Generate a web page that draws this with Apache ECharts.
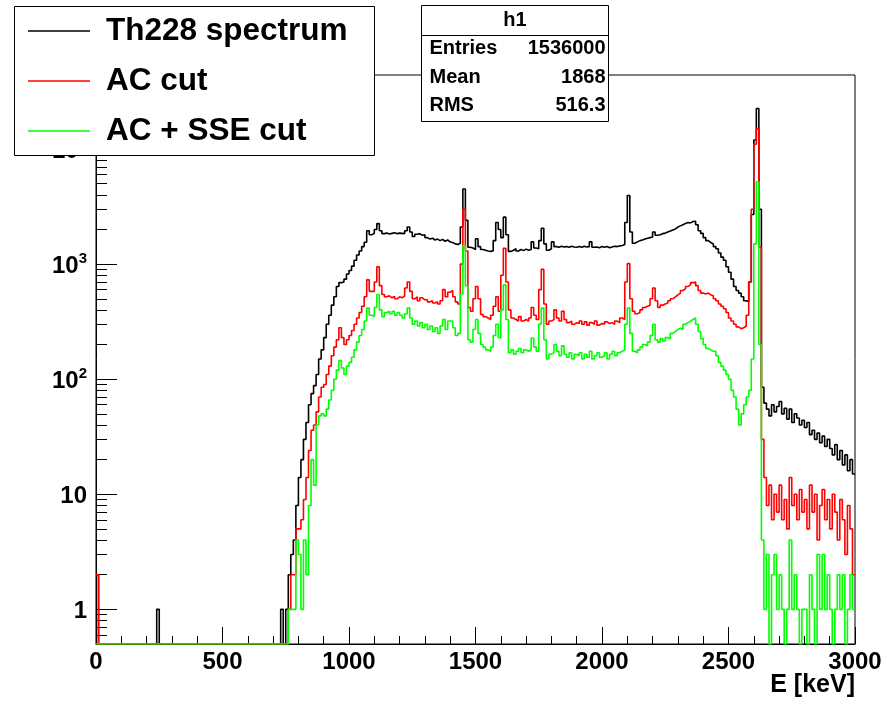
<!DOCTYPE html>
<html>
<head>
<meta charset="utf-8">
<script src="https://cdn.jsdelivr.net/npm/echarts@6.0.0/dist/echarts.min.js"></script>
<style>
  html, body { margin: 0; padding: 0; background: #fff; }
  #chart { width: 886px; height: 701px; }
</style>
</head>
<body>
<div id="chart"></div>
<script>
// histogram: 10 keV bins from 0 to 3000 keV, counts per bin
const binWidth = 10;
const eMin = 0;
const eMax = 3000;

const th228 = [
  2, 0, 0, 0, 0, 0, 0, 0, 0, 0,
  0, 0, 0, 0, 0, 0, 0, 0, 0, 0,
  0, 0, 0, 0, 1, 0, 0, 0, 0, 0,
  0, 0, 0, 0, 0, 0, 0, 0, 0, 0,
  0, 0, 0, 0, 0, 0, 0, 0, 0, 0,
  0, 0, 0, 0, 0, 0, 0, 0, 0, 0,
  0, 0, 0, 0, 0, 0, 0, 0, 0, 0,
  0, 0, 0, 1, 0, 1, 2, 3, 4, 8,
  14, 20, 30, 42, 60, 75, 88, 110, 150, 180,
  230, 300, 360, 440, 520, 640, 690, 700, 740, 820,
  880, 960, 1080, 1200, 1300, 1420, 1550, 1950, 1800, 1850,
  2000, 2250, 1950, 1840, 1860, 1830, 1850, 1870, 1840, 1860,
  1850, 1840, 1950, 2100, 1900, 1740, 1820, 1840, 1780, 1800,
  1700, 1650, 1680, 1620, 1650, 1600, 1640, 1580, 1620, 1560,
  1540, 1500, 1480, 1520, 2100, 4500, 2400, 1400, 1380, 1340,
  1660, 1420, 1340, 1320, 1300, 1290, 1310, 1600, 2300, 2000,
  1700, 2560, 1800, 1290, 1320, 1360, 1300, 1340, 1310, 1350,
  1320, 1340, 1560, 1380, 1360, 1600, 2050, 1500, 1320, 1360,
  1560, 1420, 1400, 1430, 1410, 1420, 1400, 1430, 1410, 1400,
  1420, 1400, 1430, 1410, 1420, 1560, 1400, 1410, 1390, 1420,
  1400, 1420, 1390, 1410, 1430, 1420, 1440, 1450, 1480, 2300,
  3950, 1900, 1520, 1560, 1600, 1620, 1650, 1680, 1700, 1720,
  1900, 1780, 1800, 1840, 1860, 1900, 1940, 1980, 2020, 2100,
  2150, 2200, 2250, 2300, 2280, 2350, 2360, 2200, 1950, 1850,
  1700, 1600, 1540, 1500, 1420, 1360, 1250, 1150, 1080, 950,
  850, 740, 640, 590, 560, 520, 480, 470, 700, 2700,
  12000, 22500, 3000, 85, 62, 55, 48, 60, 52, 58,
  64, 50, 56, 45, 55, 42, 50, 46, 40, 44,
  38, 42, 33, 36, 30, 34, 28, 32, 26, 30,
  25, 22, 27, 20, 24, 18, 22, 16, 20, 15
];

const acCut = [
  2, 0, 0, 0, 0, 0, 0, 0, 0, 0,
  0, 0, 0, 0, 0, 0, 0, 0, 0, 0,
  0, 0, 0, 0, 0, 0, 0, 0, 0, 0,
  0, 0, 0, 0, 0, 0, 0, 0, 0, 0,
  0, 0, 0, 0, 0, 0, 0, 0, 0, 0,
  0, 0, 0, 0, 0, 0, 0, 0, 0, 0,
  0, 0, 0, 0, 0, 0, 0, 0, 0, 0,
  0, 0, 0, 0, 0, 0, 1, 2, 2, 5,
  5, 6, 9, 14, 24, 36, 40, 52, 70, 85,
  90, 110, 130, 160, 190, 220, 280, 230, 200, 220,
  240, 265, 300, 340, 380, 430, 520, 730, 580, 580,
  700, 950, 650, 545, 520, 530, 510, 525, 500, 520,
  510, 530, 620, 700, 580, 500, 520, 480, 510, 490,
  490, 470, 480, 460, 470, 450, 480, 600, 520, 570,
  590, 520, 470, 450, 1000, 3000, 1300, 420, 390, 500,
  640, 500, 365, 350, 340, 330, 360, 430, 520, 390,
  800, 1370, 700, 400, 340, 330, 320, 350, 320, 330,
  320, 340, 420, 360, 330, 600, 900, 450, 300, 320,
  330, 400, 340, 320, 390, 330, 310, 320, 300, 310,
  305, 320, 300, 315, 295, 310, 300, 320, 295, 305,
  300, 315, 305, 310, 300, 320, 310, 340, 330, 700,
  1010, 500, 390, 370, 380, 400, 420, 430, 440, 500,
  620, 480, 420, 440, 450, 460, 480, 500, 520, 540,
  560, 590, 610, 640, 660, 690, 700, 650, 590, 560,
  550, 560, 540, 530, 500, 480, 450, 430, 410, 380,
  340, 320, 300, 285, 275, 280, 290, 360, 700, 3000,
  11000, 15000, 1400, 30, 14, 8, 12, 6, 10, 7,
  12, 6, 9, 5, 14, 8, 10, 6, 11, 7,
  9, 5, 12, 7, 10, 4, 8, 11, 6, 9,
  5, 10, 7, 4, 9, 6, 3, 8, 5, 2
];

const acSseCut = [
  0, 0, 0, 0, 0, 0, 0, 0, 0, 0,
  0, 0, 0, 0, 0, 0, 0, 0, 0, 0,
  0, 0, 0, 0, 0, 0, 0, 0, 0, 0,
  0, 0, 0, 0, 0, 0, 0, 0, 0, 0,
  0, 0, 0, 0, 0, 0, 0, 0, 0, 0,
  0, 0, 0, 0, 0, 0, 0, 0, 0, 0,
  0, 0, 0, 0, 0, 0, 0, 0, 0, 0,
  0, 0, 0, 0, 0, 0, 1, 1, 1, 4,
  3, 1, 4, 2, 8, 20, 12, 40, 48, 50,
  48, 55, 66, 80, 100, 120, 145, 125, 110, 130,
  140, 155, 180, 210, 240, 270, 320, 415, 360, 350,
  420, 545, 400, 350, 380, 390, 370, 390, 360, 380,
  360, 340, 370, 415, 340, 300, 320, 290, 310, 280,
  300, 270, 290, 260, 280, 250, 290, 330, 270, 320,
  320, 280, 240, 250, 550, 1450, 650, 220, 210, 270,
  330, 250, 200, 190, 180, 175, 190, 240, 300, 230,
  400, 660, 330, 170, 180, 165, 175, 185, 170, 180,
  175, 180, 228, 190, 175, 300, 415, 220, 150, 165,
  170, 200, 175, 160, 195, 165, 155, 170, 150, 165,
  160, 170, 150, 165, 155, 175, 150, 160, 170, 155,
  160, 170, 150, 165, 175, 160, 170, 175, 180, 300,
  415, 250, 175, 170, 180, 190, 200, 195, 210, 240,
  300, 220, 210, 225, 215, 230, 225, 250, 260, 270,
  278, 270, 300, 310, 320, 330, 340, 300, 260, 225,
  200, 185, 180, 175, 175, 160, 140, 130, 120, 110,
  100, 80, 70, 55, 40, 50, 60, 70, 80, 150,
  1500, 5200, 200, 4, 1, 3, 0, 2, 3, 1,
  2, 1, 0, 1, 4, 1, 2, 1, 0, 1,
  1, 0, 2, 1, 0, 3, 1, 3, 1, 2,
  1, 0, 1, 2, 1, 2, 0, 1, 2, 1
];

const xTicks = [0, 500, 1000, 1500, 2000, 2500, 3000];
const yMajorTicks = [1, 10, 100, 1000, 10000];
const yMinorTicks = [
  0.6, 0.7, 0.8, 0.9,
  2, 3, 4, 5, 6, 7, 8, 9,
  20, 30, 40, 50, 60, 70, 80, 90,
  200, 300, 400, 500, 600, 700, 800, 900,
  2000, 3000, 4000, 5000, 6000, 7000, 8000, 9000,
  20000, 30000, 40000
];
const yMin = 0.5;
const yMax = 44000;

const seriesNames = ['Th228 spectrum', 'AC cut', 'AC + SSE cut'];
const seriesColors = ['#000000', '#ff0000', '#00ff00'];

const FONT = '"Liberation Sans", Arial, Helvetica, sans-serif';

// empty bins sit on the bottom of the frame, like ROOT does on a log pad
function toSteps(counts) {
  const pts = counts.map((c, i) => [eMin + i * binWidth, c > 0 ? c : yMin]);
  pts.push([eMax, pts[pts.length - 1][1]]);
  return pts;
}

const chart = echarts.init(document.getElementById('chart'));

const option = {
  backgroundColor: '#fff',
  animation: false,
  grid: {
    left: 96, right: 31, top: 75, bottom: 57,
    show: true, borderColor: '#000', borderWidth: 1, backgroundColor: 'transparent'
  },
  legend: {
    orient: 'vertical',
    left: 28, top: 11,
    padding: 0,
    itemWidth: 62, itemHeight: 1.5, itemGap: 10,
    icon: 'rect',
    selectedMode: false,
    data: seriesNames,
    textStyle: {
      fontSize: 31.5, fontWeight: 'bold', fontFamily: FONT, color: '#000',
      lineHeight: 40, padding: [0, 0, 0, 11]
    },
    z: 60
  },
  xAxis: {
    type: 'value',
    min: eMin, max: eMax, interval: 500,
    axisLine: { show: true, lineStyle: { color: '#000', width: 1 } },
    axisTick: { show: true, inside: true, length: 17, lineStyle: { color: '#000', width: 1 } },
    minorTick: { show: true, splitNumber: 5, length: 8, lineStyle: { color: '#000', width: 1 } },
    axisLabel: {
      fontSize: 24, fontWeight: 'bold', fontFamily: FONT, color: '#000', margin: 6,
      customValues: xTicks,
      formatter: v => String(v)
    },
    splitLine: { show: false }
  },
  yAxis: [
    {
      type: 'log', logBase: 10, min: yMin, max: yMax, position: 'left',
      axisLine: { show: true, lineStyle: { color: '#000', width: 1 } },
      axisTick: { show: true, inside: true, length: 21, customValues: yMajorTicks, lineStyle: { color: '#000', width: 1 } },
      axisLabel: {
        customValues: yMajorTicks,
        margin: 9,
        color: '#000',
        padding: [5, 0, 0, 0],
        formatter: function (v) {
          const p = Math.round(Math.log10(v));
          if (p === 0) return '{b|1}';
          if (p === 1) return '{b|10}';
          return '{b|10}{s|' + p + '}';
        },
        rich: {
          b: { fontSize: 24, fontWeight: 'bold', fontFamily: FONT, color: '#000', lineHeight: 30 },
          s: { fontSize: 15, fontWeight: 'bold', fontFamily: FONT, color: '#000', lineHeight: 15, verticalAlign: 'top' }
        }
      },
      splitLine: { show: false }
    },
    {
      type: 'log', logBase: 10, min: yMin, max: yMax, position: 'left', offset: 0,
      axisLine: { show: false },
      axisTick: { show: true, inside: true, length: 11, customValues: yMinorTicks, lineStyle: { color: '#000', width: 1 } },
      axisLabel: { show: false },
      splitLine: { show: false }
    }
  ],
  series: [th228, acCut, acSseCut].map((counts, k) => ({
    name: seriesNames[k],
    type: 'line',
    step: 'end',
    yAxisIndex: 0,
    showSymbol: false,
    symbol: 'none',
    clip: true,
    color: seriesColors[k],
    lineStyle: { color: seriesColors[k], width: 1.6 },
    data: toSteps(counts)
  })),
  graphic: [
    // legend frame
    {
      type: 'rect', left: 14, top: 6, z: 50,
      shape: { width: 360, height: 149 },
      style: { fill: '#fff', stroke: '#000', lineWidth: 1 }
    },
    // stats box
    {
      type: 'group', left: 419, top: 5, z: 50,
      children: [
        { type: 'rect', shape: { x: 0, y: 0, width: 187, height: 116 }, style: { fill: '#fff', stroke: '#000', lineWidth: 1 }, z: 50 },
        { type: 'line', shape: { x1: 0, y1: 30, x2: 187, y2: 30 }, style: { stroke: '#000', lineWidth: 1 }, z: 51 },
        { type: 'text', x: 93.5, y: 15, z: 51, style: { text: 'h1', font: 'bold 20px ' + FONT, textAlign: 'center', textVerticalAlign: 'middle', fill: '#000' } },
        { type: 'text', x: 8, y: 43, z: 51, style: { text: 'Entries', font: 'bold 20px ' + FONT, textAlign: 'left', textVerticalAlign: 'middle', fill: '#000' } },
        { type: 'text', x: 184, y: 43, z: 51, style: { text: '1536000', font: 'bold 20px ' + FONT, textAlign: 'right', textVerticalAlign: 'middle', fill: '#000' } },
        { type: 'text', x: 8, y: 72, z: 51, style: { text: 'Mean', font: 'bold 20px ' + FONT, textAlign: 'left', textVerticalAlign: 'middle', fill: '#000' } },
        { type: 'text', x: 184, y: 72, z: 51, style: { text: '1868', font: 'bold 20px ' + FONT, textAlign: 'right', textVerticalAlign: 'middle', fill: '#000' } },
        { type: 'text', x: 8, y: 100, z: 51, style: { text: 'RMS', font: 'bold 20px ' + FONT, textAlign: 'left', textVerticalAlign: 'middle', fill: '#000' } },
        { type: 'text', x: 184, y: 100, z: 51, style: { text: '516.3', font: 'bold 20px ' + FONT, textAlign: 'right', textVerticalAlign: 'middle', fill: '#000' } }
      ]
    },
    // x axis title
    {
      type: 'text', right: 31, top: 673, z: 50,
      style: { text: 'E [keV]', font: 'bold 25px ' + FONT, fill: '#000' }
    }
  ]
};

chart.setOption(option);
</script>
</body>
</html>
